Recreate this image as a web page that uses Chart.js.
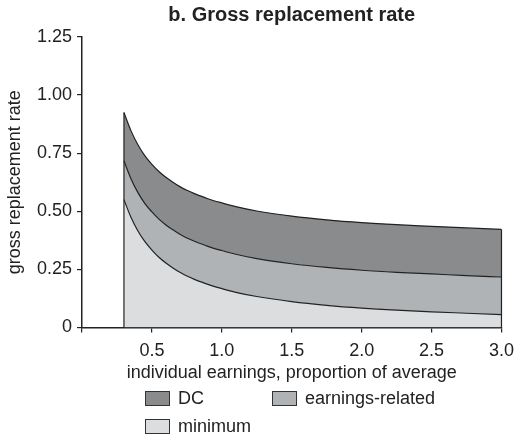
<!DOCTYPE html>
<html>
<head>
<meta charset="utf-8">
<script src="https://cdn.jsdelivr.net/npm/chart.js@4"></script>
<style>
  body { margin: 0; background: #fff; }
  #wrap { position: relative; width: 524px; height: 438px; }
  .legend { position: absolute; font-family: "Liberation Sans", Arial, sans-serif; font-size: 18px; color: #222; display: flex; align-items: center; line-height: 20px; }
  .legend span.box { display: inline-block; width: 23px; height: 13px; border: 1px solid #333; margin-right: 8px; }
</style>
</head>
<body>
<div id="wrap">
  <canvas id="grafico" width="524" height="438"></canvas>
  <div class="legend" style="left:145px; top:388px;"><span class="box" style="background:#8a8b8d"></span>DC</div>
  <div class="legend" style="left:272px; top:388px;"><span class="box" style="background:#b0b3b6"></span>earnings-related</div>
  <div class="legend" style="left:145px; top:416px;"><span class="box" style="background:#dcdddf"></span>minimum</div>
</div>
<script>
// Ganancias individuales (proporción del promedio)
const ganancias = [0.3, 0.35, 0.4, 0.45, 0.5, 0.55, 0.6, 0.65, 0.7, 0.75, 0.8, 0.9, 1.0, 1.1, 1.25, 1.5, 1.75, 2.0, 2.25, 2.5, 2.75, 3.0];
// Capas apiladas de la tasa de reemplazo bruta
const minimo = [0.55, 0.474, 0.415, 0.369, 0.333, 0.302, 0.277, 0.256, 0.237, 0.221, 0.208, 0.185, 0.167, 0.151, 0.133, 0.111, 0.095, 0.083, 0.074, 0.067, 0.061, 0.055];
const relacionado = [0.167, 0.166, 0.165, 0.164, 0.164, 0.164, 0.164, 0.164, 0.164, 0.164, 0.164, 0.164, 0.164, 0.164, 0.163, 0.163, 0.163, 0.163, 0.163, 0.163, 0.162, 0.162];
const dc = [0.208, 0.207, 0.206, 0.205, 0.205, 0.205, 0.205, 0.205, 0.205, 0.205, 0.205, 0.205, 0.205, 0.205, 0.205, 0.205, 0.205, 0.205, 0.205, 0.205, 0.205, 0.205];
const ticksY = [0, 0.25, 0.5, 0.75, 1.0, 1.25];

const fuente = "'Liberation Sans', Arial, sans-serif";
const toPoints = (arr) => arr.map((v, i) => ({ x: ganancias[i], y: v }));

// Líneas verticales en los extremos del área
const bordes = {
  id: 'bordes',
  afterDatasetsDraw(chart) {
    const { ctx, scales } = chart;
    ctx.save();
    ctx.strokeStyle = '#222';
    ctx.lineWidth = 1.2;
    [0, ganancias.length - 1].forEach(i => {
      const top = minimo[i] + relacionado[i] + dc[i];
      const px = scales.x.getPixelForValue(ganancias[i]);
      ctx.beginPath();
      ctx.moveTo(px, scales.y.getPixelForValue(0));
      ctx.lineTo(px, scales.y.getPixelForValue(top));
      ctx.stroke();
    });
    ctx.restore();
  }
};

new Chart(document.getElementById('grafico').getContext('2d'), {
  type: 'line',
  data: {
    datasets: [
      { label: 'minimum', data: toPoints(minimo), backgroundColor: '#dcdddf', borderColor: '#222', borderWidth: 1.2, fill: 'origin', pointRadius: 0, cubicInterpolationMode: 'monotone' },
      { label: 'earnings-related', data: toPoints(relacionado), backgroundColor: '#b0b3b6', borderColor: '#222', borderWidth: 1.2, fill: '-1', pointRadius: 0, cubicInterpolationMode: 'monotone' },
      { label: 'DC', data: toPoints(dc), backgroundColor: '#8a8b8d', borderColor: '#222', borderWidth: 1.2, fill: '-1', pointRadius: 0, cubicInterpolationMode: 'monotone' }
    ]
  },
  options: {
    responsive: false,
    animation: false,
    layout: { padding: { left: 4, right: 17, top: 0, bottom: 54 } },
    plugins: {
      legend: { display: false },
      tooltip: { enabled: false },
      title: {
        display: true,
        fullSize: false,
        text: 'b. Gross replacement rate',
        color: '#222',
        font: { family: fuente, size: 20, weight: 'bold' },
        padding: { top: 3, bottom: 10 }
      }
    },
    scales: {
      x: {
        type: 'linear',
        min: 0,
        max: 3,
        grid: { display: true, drawOnChartArea: false, tickLength: 5, color: '#222', lineWidth: 1.2 },
        border: { display: true, color: '#222', width: 1.5 },
        ticks: {
          stepSize: 0.5,
          color: '#222',
          font: { family: fuente, size: 18, lineHeight: 1.0 },
          padding: 10,
          callback: v => v === 0 ? '' : v.toFixed(1)
        },
        title: {
          display: true,
          text: 'individual earnings, proportion of average',
          color: '#222',
          font: { family: fuente, size: 18 },
          padding: { top: -8, bottom: 0 }
        }
      },
      y: {
        stacked: true,
        min: 0,
        max: 1.25,
        afterBuildTicks: s => { s.ticks = ticksY.map(v => ({ value: v })); },
        afterFit: s => { s.width = 78; },
        grid: { display: true, drawOnChartArea: false, tickLength: 5, color: '#222', lineWidth: 1.2 },
        border: { display: true, color: '#222', width: 1.5 },
        ticks: {
          color: '#222',
          font: { family: fuente, size: 18 },
          padding: 5,
          callback: v => v === 0 ? '0' : v.toFixed(2)
        },
        title: {
          display: true,
          text: 'gross replacement rate',
          color: '#222',
          font: { family: fuente, size: 18 },
          padding: { top: 0, bottom: 4 }
        }
      }
    }
  },
  plugins: [bordes]
});
</script>
</body>
</html>
